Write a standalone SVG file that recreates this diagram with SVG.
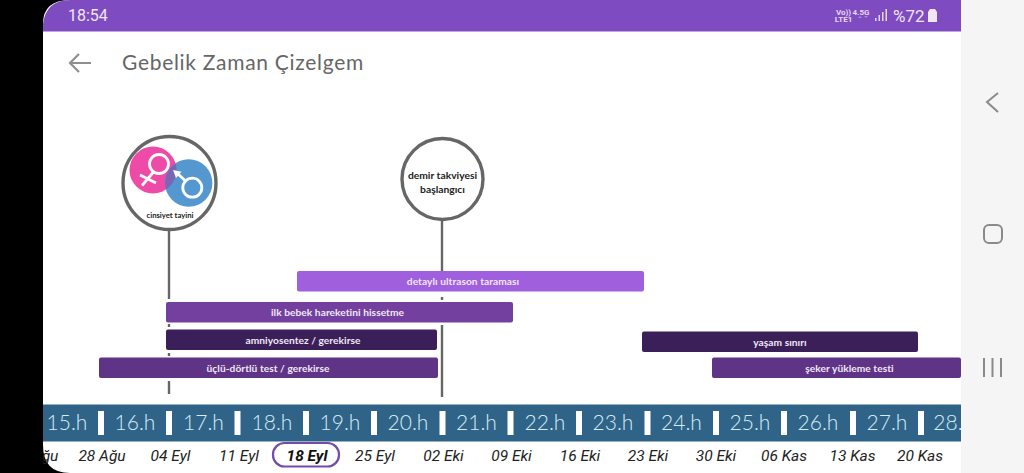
<svg xmlns="http://www.w3.org/2000/svg" width="1024" height="473" viewBox="0 0 1024 473">
<style>
.wk{font:300 21px Lato,"Liberation Sans",sans-serif;fill:#d6ebf5;text-anchor:middle}
.dt{font:italic 15.5px Roboto,"Liberation Sans",sans-serif;fill:#222;text-anchor:middle}
.dtb{font:italic bold 15.5px Roboto,"Liberation Sans",sans-serif;fill:#111;text-anchor:middle}
.bar{font:bold 10.2px Lato,"Liberation Sans",sans-serif;fill:#f1e8f6;text-anchor:middle;letter-spacing:.05px}
.sep{fill:#fff}
.ln{stroke:#666;stroke-width:2.4;fill:none}
.ring{fill:#fff;stroke:#666;stroke-width:3.4}
.nav{stroke:#8a8a8a;stroke-width:2;fill:none}
.st{font-family:Roboto,sans-serif;font-size:8px;font-weight:bold;fill:#e6d8f5;text-anchor:middle}
.nd{font-family:Lato,sans-serif;font-size:10.300px;font-weight:bold;fill:#222;text-anchor:middle}
</style>
<defs>
<clipPath id="c"><rect x="43" y="400" width="918" height="73"/></clipPath>
<clipPath id="lens"><circle cx="153" cy="170" r="23.500"/></clipPath>
</defs>
<rect width="1024" height="473" fill="#000"/>
<rect x="961" width="63" height="473" fill="#f5f5f5"/>
<path d="M43 473V24Q43 0 70 0H961V473H70Q43 473 43 445Z" fill="#fff"/>
<path d="M43 31.500V24Q46 0 70 0H961V31.500Z" fill="#7e4cc0"/>
<g id="status">
<text x="68" y="21" font-family="Roboto,sans-serif" font-size="16" fill="#f0e6fa">18:54</text>
<text class="st" x="843.500" y="14.500">Vo))</text>
<text class="st" x="843.500" y="22">LTE1</text>
<text class="st" x="861" y="15">4.5G</text>
<path d="M858 18l2-2 2 2zM864 16l2 2 2-2z" fill="#a98ad8"/>
<path d="M875 21h1.500v-3h-1.500zM878.500 21h1.500v-6h-1.500zM882 21h1.500v-9h-1.500zM885.500 21h1.500v-12h-1.500z" fill="#e6d8f5"/>
<text x="893" y="21.500" font-family="Roboto,sans-serif" font-size="17" fill="#f0e6fa">%72</text>
<path d="M928 12l2-3h5l2 3v10h-9z" fill="#f0e6fa"/>
</g>
<g id="header">
<path d="M70 63H91M79 54L70 63L79 72" fill="none" stroke="#8f8f8f" stroke-width="2.200"/>
<text x="122" y="70" font-family="Lato,sans-serif" font-size="21" fill="#666" letter-spacing=".7">Gebelik Zaman Çizelgem</text>
</g>
<g id="connectors">
<path class="ln" d="M169 230V299M169 324V327M169 353V356M169 381V394"/>
<path class="ln" d="M442 220V272M442 297V300M442 325V397"/>
</g>
<g id="node-cinsiyet">
<circle class="ring" cx="169.500" cy="183" r="46.500"/>
<circle cx="153" cy="170" r="23.500" fill="#ee4aa8"/>
<circle cx="188.700" cy="183" r="23.700" fill="#5498cf"/>
<circle cx="188.700" cy="183" r="23.700" fill="#7a66b4" clip-path="url(#lens)"/>
<g fill="none" stroke="#fff" stroke-width="2.800">
<circle cx="159" cy="164" r="9.500"/><path d="M153.500 172L142 185.500M140 175L156 183"/>
<circle cx="192.300" cy="187.700" r="9.500"/><path d="M185.500 181L177 173"/>
</g>
<path d="M173 170L181.500 171.700L176 178Z" fill="#fff"/>
<text x="170" y="218" font-family="Lato,sans-serif" font-size="7.700" font-weight="bold" fill="#222" text-anchor="middle">cinsiyet tayini</text>
</g>
<g id="node-demir">
<circle class="ring" cx="442.500" cy="179" r="40.500"/>
<text class="nd" x="442.500" y="179">demir takviyesi</text>
<text class="nd" x="442.500" y="193">başlangıcı</text>
</g>
<g id="bar-ultrason"><rect x="297" y="271" width="347" height="20.500" rx="2" fill="#a05fdc"/><text class="bar" x="463" y="285">detaylı ultrason taraması</text></g>
<g id="bar-hareket"><rect x="166" y="302" width="347" height="20.500" rx="2" fill="#74409f"/><text class="bar" x="337.500" y="316">ilk bebek hareketini hissetme</text></g>
<g id="bar-amnio"><rect x="166" y="329.500" width="271" height="20.500" rx="2" fill="#3b1f59"/><text class="bar" x="303" y="344">amniyosentez / gerekirse</text></g>
<g id="bar-uclu"><rect x="99" y="357.500" width="339" height="20.500" rx="2" fill="#5f3386"/><text class="bar" x="268" y="371.500">üçlü-dörtlü test / gerekirse</text></g>
<g id="bar-yasam"><rect x="642" y="331.500" width="276" height="20.500" rx="2" fill="#3b1f59"/><text class="bar" x="780" y="346">yaşam sınırı</text></g>
<g id="bar-seker"><rect x="712" y="357.500" width="249" height="20.500" rx="2" fill="#5f3386"/><text class="bar" x="849.500" y="371.500">şeker yükleme testi</text></g>
<g id="timeline" clip-path="url(#c)">
<rect x="43" y="404.500" width="918" height="37" fill="#2f6488"/>
<g class="sep">
<rect x="98" y="411" width="6" height="24"/><rect x="166" y="411" width="6" height="24"/><rect x="234.500" y="411" width="6" height="24"/><rect x="303" y="411" width="6" height="24"/><rect x="371" y="411" width="6" height="24"/><rect x="439.500" y="411" width="6" height="24"/><rect x="507.500" y="411" width="6" height="24"/><rect x="576" y="411" width="6" height="24"/><rect x="644.500" y="411" width="6" height="24"/><rect x="713" y="411" width="6" height="24"/><rect x="781" y="411" width="6" height="24"/><rect x="850" y="411" width="6" height="24"/><rect x="918" y="411" width="6" height="24"/>
</g>
<text class="wk" x="67" y="430">15.h</text><text class="wk" x="135" y="430">16.h</text><text class="wk" x="203.500" y="430">17.h</text><text class="wk" x="272" y="430">18.h</text><text class="wk" x="340" y="430">19.h</text><text class="wk" x="408" y="430">20.h</text><text class="wk" x="476.500" y="430">21.h</text><text class="wk" x="545" y="430">22.h</text><text class="wk" x="613" y="430">23.h</text><text class="wk" x="681.500" y="430">24.h</text><text class="wk" x="750" y="430">25.h</text><text class="wk" x="818" y="430">26.h</text><text class="wk" x="887" y="430">27.h</text><text class="wk" x="948" y="430">28.</text>
<text class="dt" x="50" y="461">ğu</text>
<text class="dt" x="102" y="461">28 Ağu</text><text class="dt" x="170.500" y="461">04 Eyl</text><text class="dt" x="239" y="461">11 Eyl</text>
<text class="dt" x="375" y="461">25 Eyl</text><text class="dt" x="443.500" y="461">02 Eki</text><text class="dt" x="511.500" y="461">09 Eki</text><text class="dt" x="580" y="461">16 Eki</text><text class="dt" x="648" y="461">23 Eki</text><text class="dt" x="716" y="461">30 Eki</text><text class="dt" x="784" y="461">06 Kas</text><text class="dt" x="852.500" y="461">13 Kas</text><text class="dt" x="920" y="461">20 Kas</text>
<rect x="273" y="443" width="66" height="23.500" rx="11.500" fill="#fff" stroke="#744bab" stroke-width="2.200"/>
<text class="dtb" x="307" y="461">18 Eyl</text>
</g>
<g id="nav">
<path class="nav" d="M998 93L987 102L998 112"/>
<rect class="nav" x="984" y="225" width="18" height="18" rx="5"/>
<path class="nav" d="M984 358V377M992.500 358V377M1001 358V377"/>
</g>
</svg>
